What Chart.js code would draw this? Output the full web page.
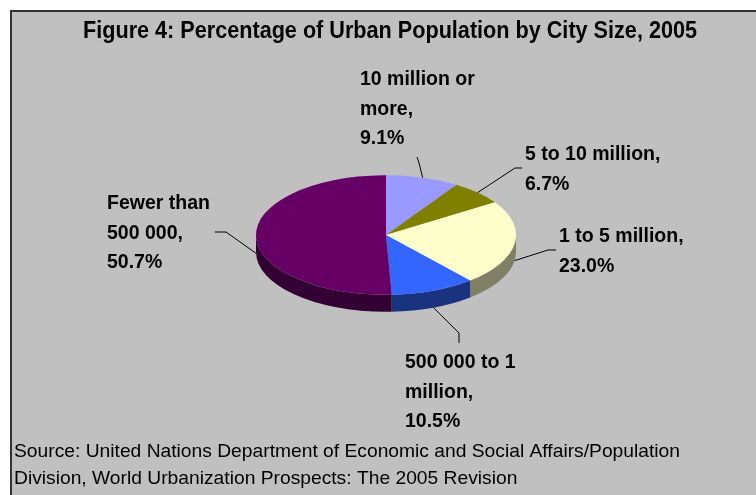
<!DOCTYPE html>
<html>
<head>
<meta charset="utf-8">
<script src="https://cdn.jsdelivr.net/npm/chart.js@4.4.1/dist/chart.umd.min.js"></script>
<style>
  html, body { margin: 0; padding: 0; background: #fff; }
  #wrap { width: 756px; height: 495px; }
</style>
</head>
<body>
<div id="wrap"><canvas id="pie-chart"></canvas></div>
<script>
var chartTitle = "Figure 4: Percentage of Urban Population by City Size, 2005";
var sourceLines = [
    "Source: United Nations Department of Economic and Social Affairs/Population",
    "Division, World Urbanization Prospects: The 2005 Revision"
];
var labelsData = ["10 million or more", "5 to 10 million", "1 to 5 million", "500 000 to 1 million", "Fewer than 500 000"];
var inputData = [9.1, 6.7, 23.0, 10.5, 50.7];
var labelLines = [["10 million or", "more,"], ["5 to 10 million,"], ["1 to 5 million,"], ["500 000 to 1", "million,"], ["Fewer than", "500 000,"]];

var topColors = ["#9999ff", "#808000", "#ffffcc", "#3366ff", "#660066"];
var sideColors = ["#4d4d80", "#404000", "#808066", "#1a3380", "#330033"];

// where Excel put the labels: text box (x, first line y) and the leader elbow/end
var labelLayout = [
    { x: 360, y: 80,  elbow: [419, 163], end: [417, 157] },
    { x: 525, y: 155, elbow: [515, 168], end: [522, 168] },
    { x: 559, y: 237, elbow: [548, 250], end: [556, 250] },
    { x: 405, y: 363, elbow: [459, 333], end: [459, 343] },
    { x: 107, y: 204, elbow: [226, 232], end: [215, 232] }
];

var squash = 0.46;   // vertical squash of the pie (tilt)
var depth = 17;      // thickness of the 3D rim

// draw text squeezed/stretched to a given width (the original is a condensed render)
function fitText(ctx, text, x, y, width) {
    var w = ctx.measureText(text).width;
    ctx.save();
    ctx.translate(x, y);
    ctx.scale(width / w, 1);
    ctx.fillText(text, 0, 0);
    ctx.restore();
}

var pie3d = {
    id: "pie3d",
    beforeDraw: function (chart) {
        var ctx = chart.ctx;
        ctx.save();
        ctx.fillStyle = "#ffffff";
        ctx.fillRect(0, 0, chart.width, chart.height);
        ctx.fillStyle = "#c0c0c0";
        ctx.fillRect(11, 11, chart.width - 11, chart.height - 11);
        ctx.strokeStyle = "#333333";
        ctx.lineWidth = 2;
        ctx.beginPath();
        ctx.moveTo(11, chart.height);
        ctx.lineTo(11, 11);
        ctx.lineTo(chart.width, 11);
        ctx.stroke();

        ctx.fillStyle = "#000";
        ctx.textBaseline = "alphabetic";
        ctx.textAlign = "center";
        ctx.font = "bold 23px 'Liberation Sans', Arial, sans-serif";
        fitText(ctx, chartTitle, 390, 38, 614);

        ctx.textAlign = "left";
        ctx.textBaseline = "middle";
        ctx.font = "18.5px 'Liberation Sans', Arial, sans-serif";
        fitText(ctx, sourceLines[0], 14, 452, 666);
        fitText(ctx, sourceLines[1], 14, 479, ctx.measureText(sourceLines[1]).width * 666 / ctx.measureText(sourceLines[0]).width);
        ctx.restore();
    },
    beforeDatasetsDraw: function (chart) {
        var ctx = chart.ctx;
        var arcs = chart.getDatasetMeta(0).data;
        var cx = arcs[0].x, cy = arcs[0].y, r = arcs[0].outerRadius;
        var ry = r * squash;

        // rim on the front half
        arcs.forEach(function (arc, i) {
            var a0 = Math.max(arc.startAngle, 0);
            var a1 = Math.min(arc.endAngle, Math.PI);
            if (a1 <= a0) return;
            ctx.beginPath();
            ctx.ellipse(cx, cy, r, ry, 0, a0, a1);
            ctx.ellipse(cx, cy + depth, r, ry, 0, a1, a0, true);
            ctx.closePath();
            ctx.fillStyle = sideColors[i];
            ctx.fill();
        });

        ctx.save();
        ctx.translate(cx, cy);
        ctx.scale(1, squash);
        ctx.translate(-cx, -cy);
    },
    afterDatasetsDraw: function (chart) {
        var ctx = chart.ctx;
        ctx.restore();

        var arcs = chart.getDatasetMeta(0).data;
        var cx = arcs[0].x, cy = arcs[0].y, r = arcs[0].outerRadius;

        ctx.save();
        ctx.strokeStyle = "#000";
        ctx.lineWidth = 1;
        ctx.fillStyle = "#000";
        ctx.textBaseline = "middle";
        ctx.textAlign = "left";
        ctx.font = "bold 19.5px 'Liberation Sans', Arial, sans-serif";
        arcs.forEach(function (arc, i) {
            var mid = (arc.startAngle + arc.endAngle) / 2;
            var px = cx + r * Math.cos(mid);
            var py = cy + r * squash * Math.sin(mid) + (Math.sin(mid) > 0 ? depth : 0);
            var L = labelLayout[i];
            ctx.beginPath();
            ctx.moveTo(px, py);
            ctx.lineTo(L.elbow[0], L.elbow[1]);
            ctx.lineTo(L.end[0], L.end[1]);
            ctx.stroke();

            var lines = labelLines[i].concat([inputData[i].toFixed(1) + "%"]);
            lines.forEach(function (t, k) {
                ctx.fillText(t, L.x, L.y + k * 29.3);
            });
        });
        ctx.restore();
    }
};

var config = {
    type: "pie",
    data: {
        labels: labelsData,
        datasets: [{
            data: inputData,
            backgroundColor: topColors,
            borderWidth: 0
        }]
    },
    options: {
        responsive: true,
        maintainAspectRatio: false,
        animation: false,
        layout: { padding: { left: 256, right: 240, top: 105, bottom: 130 } },
        plugins: {
            legend: { display: false },
            tooltip: { enabled: false }
        }
    },
    plugins: [pie3d]
};

var pieChart = new Chart(document.getElementById("pie-chart"), config);
</script>
</body>
</html>
